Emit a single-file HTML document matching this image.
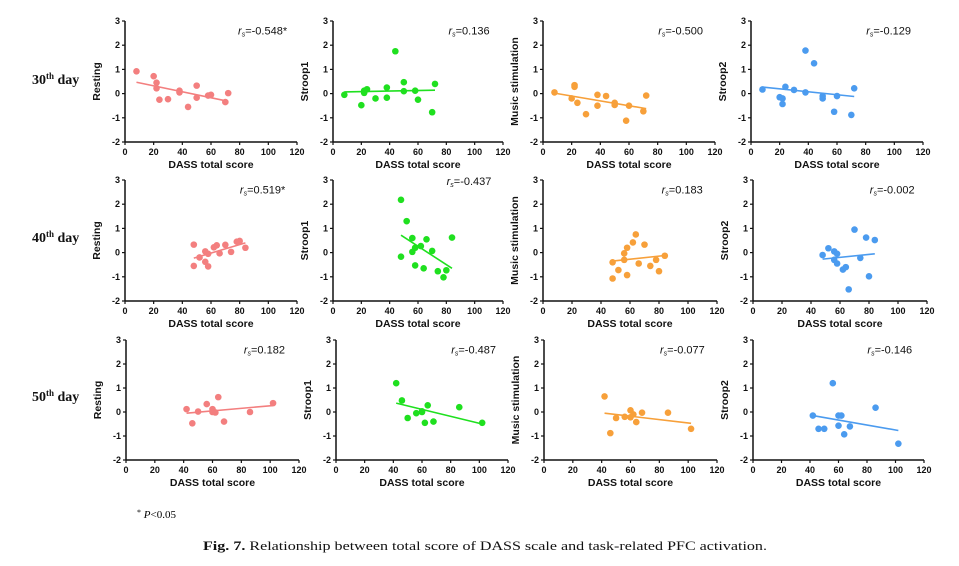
<!DOCTYPE html>
<html><head><meta charset="utf-8"><style>
html,body{margin:0;padding:0;background:#fff;width:959px;height:566px;overflow:hidden}
svg{display:block}
.tk{font:bold 9px "Liberation Sans",sans-serif;fill:#111}
.ttl{font:bold 10.5px "Liberation Sans",sans-serif;fill:#111}
.rs{font:11px "Liberation Sans",sans-serif;fill:#111}
.day{font:bold 14px "Liberation Serif",serif;fill:#111}
.cap{font:13px "Liberation Serif",serif;fill:#111}
</style></head><body>
<svg id="fig" width="959" height="566" viewBox="0 0 959 566" xmlns="http://www.w3.org/2000/svg">
<text class="day" x="32" y="84">30<tspan font-size="9" dy="-5">th</tspan><tspan dy="5"> day</tspan></text>
<text class="day" x="32" y="242">40<tspan font-size="9" dy="-5">th</tspan><tspan dy="5"> day</tspan></text>
<text class="day" x="32" y="401">50<tspan font-size="9" dy="-5">th</tspan><tspan dy="5"> day</tspan></text>
<text x="137" y="518" style="font:11px 'Liberation Serif',serif"><tspan font-size="8" dy="-3">*</tspan><tspan dy="3"> </tspan><tspan font-style="italic">P</tspan>&lt;0.05</text>
<text class="cap" x="203" y="550" textLength="564" lengthAdjust="spacingAndGlyphs"><tspan font-weight="bold">Fig. 7.</tspan> Relationship between total score of DASS scale and task-related PFC activation.</text>
</svg>
<script>
// ---- data ----
const xTicks = [0,20,40,60,80,100,120];
const yTicks = [-2,-1,0,1,2,3];
const yLabels = ["Resting","Stroop1","Music stimulation","Stroop2"];
const colors = ["#f37f7f","#1fe01f","#f7a03a","#4b9bef"];

const x30 = [8,20,22,22,24,30,38,38,44,50,50,58,60,70,72];
const rest30 = [0.92,0.72,0.45,0.22,-0.25,-0.23,0.12,0.05,-0.55,0.33,-0.17,-0.08,-0.05,-0.35,0.02];
const str1_30 = [-0.05,-0.48,0.12,0.03,0.18,-0.2,0.25,-0.17,1.75,0.47,0.1,0.12,-0.25,-0.77,0.4];
const mus30 = [0.05,-0.2,0.35,0.28,-0.38,-0.85,-0.05,-0.5,-0.1,-0.38,-0.47,-1.12,-0.5,-0.73,-0.08];
const str2_30 = [0.17,-0.15,-0.2,-0.43,0.28,0.15,1.78,0.05,1.25,-0.1,-0.2,-0.75,-0.1,-0.88,0.22];

const x40 = [48,48,52,56,56,58,58,62,64,66,70,74,78,80,84];
const rest40 = [0.33,-0.55,-0.2,0.05,-0.38,-0.05,-0.57,0.22,0.3,-0.03,0.32,0.03,0.45,0.48,0.2];
const str1_40 = [2.18,-0.17,1.3,0.6,0.03,0.2,-0.53,0.27,-0.65,0.55,0.07,-0.77,-1.02,-0.73,0.62];
const mus40 = [-0.4,-1.07,-0.72,-0.03,-0.3,0.2,-0.93,0.42,0.75,-0.45,0.33,-0.55,-0.3,-0.77,-0.13];
const x40b = [48,52,56,56,58,58,62,64,66,70,74,78,80,84];
const str2_40 = [-0.1,0.18,0.05,-0.3,-0.05,-0.45,-0.7,-0.6,-1.52,0.95,-0.22,0.62,-0.98,0.52];

const x50 = [42,46,50,56,60,60,62,64,68,86,102];
const rest50 = [0.12,-0.47,0.02,0.33,0.12,0.0,-0.02,0.62,-0.4,0.0,0.37];
const str1_50 = [1.2,0.48,-0.25,-0.05,0.0,0.03,-0.45,0.28,-0.4,0.2,-0.45];
const mus50 = [0.65,-0.88,-0.25,-0.2,0.07,-0.22,-0.1,-0.42,-0.03,-0.03,-0.7];
const str2_50 = [-0.15,-0.7,-0.7,1.2,-0.15,-0.57,-0.15,-0.93,-0.6,0.18,-1.32];

const fitX = [[8,72],[8,72],[8,72],[8,72],[48,84],[48,84],[48,84],[48,84],[42,102],[42,102],[42,102],[42,102]];
const fitY = [[0.47,-0.32],[0.07,0.14],[0.02,-0.62],[0.27,-0.12],[-0.23,0.4],[0.72,-0.65],[-0.35,-0.12],[-0.27,-0.05],[-0.05,0.27],[0.37,-0.5],[-0.05,-0.47],[-0.15,-0.77]];
const rsText = ["-0.548*","0.136","-0.500","-0.129","0.519*","-0.437","0.183","-0.002","0.182","-0.487","-0.077","-0.146"];

const seriesX = [x30,x30,x30,x30,x40,x40,x40,x40b,x50,x50,x50,x50];
const seriesY = [rest30,str1_30,mus30,str2_30,rest40,str1_40,mus40,str2_40,rest50,str1_50,mus50,str2_50];

// ---- layout ----
const geo = [
 [125,297,21,142],[333,503,21,142],[543,715,21,142],[751,923,21,142],
 [125,297,180,301],[333,503,180,301],[543,717,180,301],[753,927,180,301],
 [126,299,340,460],[336,508,340,460],[544,717,340,460],[753,924,340,460]
];
const NS="http://www.w3.org/2000/svg";
const svg=document.getElementById('fig');
function mk(tag,attrs,parent){const e=document.createElementNS(NS,tag);for(const k in attrs)e.setAttribute(k,attrs[k]);parent.appendChild(e);return e;}

geo.forEach((g,i)=>{
  const [x0,x1,yT,yB]=g;
  const sx=v=>x0+(v-0)/120*(x1-x0);
  const sy=v=>yB-(v+2)/5*(yB-yT);
  const col=colors[i%4];
  const p=mk('g',{},svg);
  
  
  // axes
  const ya=mk('line',{x1:x0,y1:yT,x2:x0,y2:yB,stroke:'#111','stroke-width':1.5},p);
  
  
  const xa=mk('line',{x1:x0,y1:yB,x2:x1,y2:yB,stroke:'#111','stroke-width':1.5},p);
  
  
  yTicks.forEach(t=>{
    mk('line',{x1:x0-3,y1:sy(t),x2:x0,y2:sy(t),stroke:'#111','stroke-width':1.2},p);
    const tl=mk('text',{class:'tk',x:x0-5,y:sy(t)+3,'text-anchor':'end'},p);
    tl.textContent=t;
    
    
  });
  xTicks.forEach(t=>{
    mk('line',{x1:sx(t),y1:yB,x2:sx(t),y2:yB+3,stroke:'#111','stroke-width':1.2},p);
    const tl=mk('text',{class:'tk',x:sx(t),y:yB+13,'text-anchor':'middle'},p);
    tl.textContent=t;
    
    
  });
  const xt=mk('text',{class:'ttl',x:(x0+x1)/2,y:yB+26,'text-anchor':'middle'},p);
  xt.textContent='DASS total score';
  
  
  const cy=(yT+yB)/2;
  const yt=mk('text',{class:'ttl',x:x0-25,y:cy,'text-anchor':'middle',transform:`rotate(-90 ${x0-25} ${cy})`},p);
  yt.textContent=yLabels[i%4];
  
  
  // fit line
  const fl=mk('line',{x1:sx(fitX[i][0]),y1:sy(fitY[i][0]),x2:sx(fitX[i][1]),y2:sy(fitY[i][1]),stroke:col,'stroke-width':1.6},p);
  
  
  // points
  seriesX[i].forEach((xv,j)=>{
    const c=mk('circle',{cx:sx(xv),cy:sy(seriesY[i][j]),r:3.3,fill:col},p);
    
    
  });
  // rs label
  const ry = (i===5)? sy(2.95) : sy(2.6);
  const rt=mk('text',{class:'rs',x:sx(96),y:ry+4,'text-anchor':'middle'},p);
  rt.innerHTML='<tspan font-style="italic">r</tspan><tspan font-size="7" dy="2" font-style="italic">s</tspan><tspan dy="-2">='+rsText[i]+'</tspan>';
  
  
});
</script>
</body></html>
